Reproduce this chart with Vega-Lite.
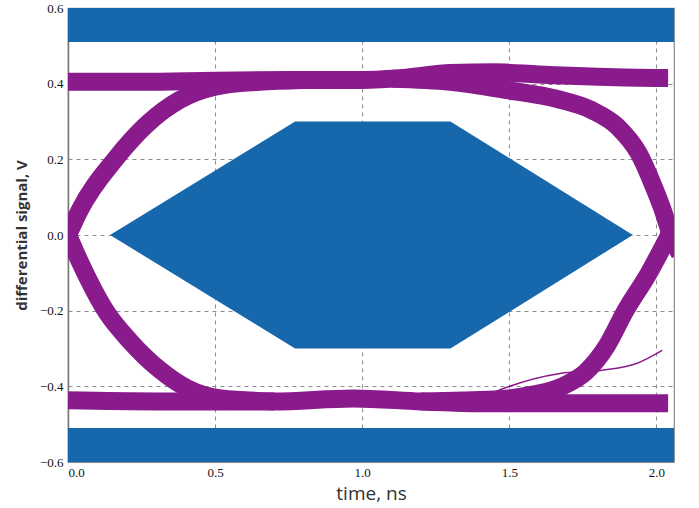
{
  "$schema": "https://vega.github.io/schema/vega-lite/v6.json",
  "width": 606,
  "height": 454,
  "autosize": "none",
  "padding": {"left": 68, "top": 8, "right": 25, "bottom": 46},
  "background": "white",
  "config": {
    "view": {"stroke": "#8a8a8a", "strokeWidth": 1.2},
    "axis": {
      "grid": true,
      "gridDash": [4, 4],
      "gridColor": "#8c8c8c",
      "gridWidth": 1,
      "ticks": false,
      "labelFont": "Liberation Serif",
      "labelFontSize": 13,
      "labelColor": "#111",
      "titleFont": "Open Sans",
      "titleColor": "#333"
    }
  },
  "datasets": {
    "traces": [
      {"trace": "U", "t": 0.0, "v": 0.405},
      {"trace": "U", "t": 0.25, "v": 0.405},
      {"trace": "U", "t": 0.5, "v": 0.408},
      {"trace": "U", "t": 0.8, "v": 0.41},
      {"trace": "U", "t": 1.0, "v": 0.41},
      {"trace": "U", "t": 1.15, "v": 0.416},
      {"trace": "U", "t": 1.3, "v": 0.428},
      {"trace": "U", "t": 1.45, "v": 0.43},
      {"trace": "U", "t": 1.6, "v": 0.424},
      {"trace": "U", "t": 1.8, "v": 0.418},
      {"trace": "U", "t": 2.0, "v": 0.415},
      {"trace": "U", "t": 2.04, "v": 0.415},
      {"trace": "L", "t": 0.0, "v": -0.437},
      {"trace": "L", "t": 0.3, "v": -0.44},
      {"trace": "L", "t": 0.7, "v": -0.44},
      {"trace": "L", "t": 0.97, "v": -0.432},
      {"trace": "L", "t": 1.2, "v": -0.44},
      {"trace": "L", "t": 1.4, "v": -0.445},
      {"trace": "L", "t": 1.7, "v": -0.445},
      {"trace": "L", "t": 2.04, "v": -0.445},
      {"trace": "RL", "t": -0.03, "v": -0.05},
      {"trace": "RL", "t": 0.0, "v": 0.0},
      {"trace": "RL", "t": 0.04, "v": 0.066},
      {"trace": "RL", "t": 0.16, "v": 0.2},
      {"trace": "RL", "t": 0.273, "v": 0.296},
      {"trace": "RL", "t": 0.38, "v": 0.357},
      {"trace": "RL", "t": 0.5, "v": 0.392},
      {"trace": "RL", "t": 0.65, "v": 0.405},
      {"trace": "RL", "t": 0.8, "v": 0.41},
      {"trace": "FL", "t": -0.03, "v": 0.05},
      {"trace": "FL", "t": 0.0, "v": 0.0},
      {"trace": "FL", "t": 0.04, "v": -0.07},
      {"trace": "FL", "t": 0.131, "v": -0.204},
      {"trace": "FL", "t": 0.21, "v": -0.28},
      {"trace": "FL", "t": 0.313, "v": -0.357},
      {"trace": "FL", "t": 0.405, "v": -0.405},
      {"trace": "FL", "t": 0.52, "v": -0.432},
      {"trace": "FL", "t": 0.7, "v": -0.44},
      {"trace": "FR", "t": 1.1, "v": 0.413},
      {"trace": "FR", "t": 1.3, "v": 0.405},
      {"trace": "FR", "t": 1.5, "v": 0.382},
      {"trace": "FR", "t": 1.66, "v": 0.36},
      {"trace": "FR", "t": 1.78, "v": 0.33},
      {"trace": "FR", "t": 1.87, "v": 0.285},
      {"trace": "FR", "t": 1.94, "v": 0.216},
      {"trace": "FR", "t": 1.99, "v": 0.13},
      {"trace": "FR", "t": 2.02, "v": 0.07},
      {"trace": "FR", "t": 2.05, "v": 0.0},
      {"trace": "FR", "t": 2.08, "v": -0.05},
      {"trace": "RR", "t": 1.2, "v": -0.44},
      {"trace": "RR", "t": 1.45, "v": -0.435},
      {"trace": "RR", "t": 1.58, "v": -0.422},
      {"trace": "RR", "t": 1.68, "v": -0.4},
      {"trace": "RR", "t": 1.76, "v": -0.362},
      {"trace": "RR", "t": 1.83, "v": -0.295},
      {"trace": "RR", "t": 1.895, "v": -0.2},
      {"trace": "RR", "t": 1.975, "v": -0.1},
      {"trace": "RR", "t": 2.03, "v": -0.02},
      {"trace": "RR", "t": 2.07, "v": 0.04},
      {"trace": "T", "t": 1.45, "v": -0.415},
      {"trace": "T", "t": 1.49, "v": -0.403},
      {"trace": "T", "t": 1.673, "v": -0.366},
      {"trace": "T", "t": 1.81, "v": -0.358},
      {"trace": "T", "t": 1.935, "v": -0.339},
      {"trace": "T", "t": 2.02, "v": -0.305}
    ],
    "hexagon": [
      {"t": 0.143, "v": 0.0, "v2": 0.0},
      {"t": 0.772, "v": 0.3, "v2": -0.3},
      {"t": 1.3, "v": 0.3, "v2": -0.3},
      {"t": 1.92, "v": 0.0, "v2": 0.0}
    ],
    "bands": [
      {"t": 0.0, "t2": 2.06, "v": 0.51, "v2": 0.6},
      {"t": 0.0, "t2": 2.06, "v": -0.6, "v2": -0.51}
    ]
  },
  "encoding": {
    "x": {
      "field": "t",
      "type": "quantitative",
      "scale": {"domain": [0, 2.06], "nice": false, "zero": false},
      "axis": {
        "values": [0, 0.5, 1, 1.5, 2],
        "format": ".1f",
        "domain": false,
        "labelPadding": 4,
        "title": "time, ns",
        "titleFontSize": 19,
        "titleFontWeight": "normal",
        "titlePadding": 5
      }
    },
    "y": {
      "field": "v",
      "type": "quantitative",
      "scale": {"domain": [-0.6, 0.6], "nice": false, "zero": false},
      "axis": {
        "values": [-0.6, -0.4, -0.2, 0, 0.2, 0.4, 0.6],
        "format": ".1f",
        "domain": true,
        "domainColor": "#777",
        "domainWidth": 1.5,
        "labelPadding": 5,
        "title": "differential signal, V",
        "titleFontSize": 15,
        "titleFontWeight": "bold",
        "titlePadding": 10
      }
    }
  },
  "layer": [
    {
      "data": {"name": "traces"},
      "transform": [{"filter": {"field": "trace", "oneOf": ["RL", "FL", "FR", "RR", "U", "L"]}}],
      "mark": {"type": "line", "color": "#8a1b8c", "strokeWidth": 18, "interpolate": "monotone", "strokeJoin": "round", "clip": true},
      "encoding": {"detail": {"field": "trace"}}
    },
    {
      "data": {"name": "traces"},
      "transform": [{"filter": {"field": "trace", "equal": "T"}}],
      "mark": {"type": "line", "color": "#8a1b8c", "strokeWidth": 1.5, "interpolate": "monotone", "clip": true},
      "encoding": {"detail": {"field": "trace"}}
    },
    {
      "data": {"name": "hexagon"},
      "mark": {"type": "area", "color": "#1767ad", "opacity": 1},
      "encoding": {"y2": {"field": "v2"}}
    },
    {
      "data": {"name": "bands"},
      "mark": {"type": "rect", "color": "#1767ad"},
      "encoding": {"x2": {"field": "t2"}, "y2": {"field": "v2"}}
    }
  ]
}
